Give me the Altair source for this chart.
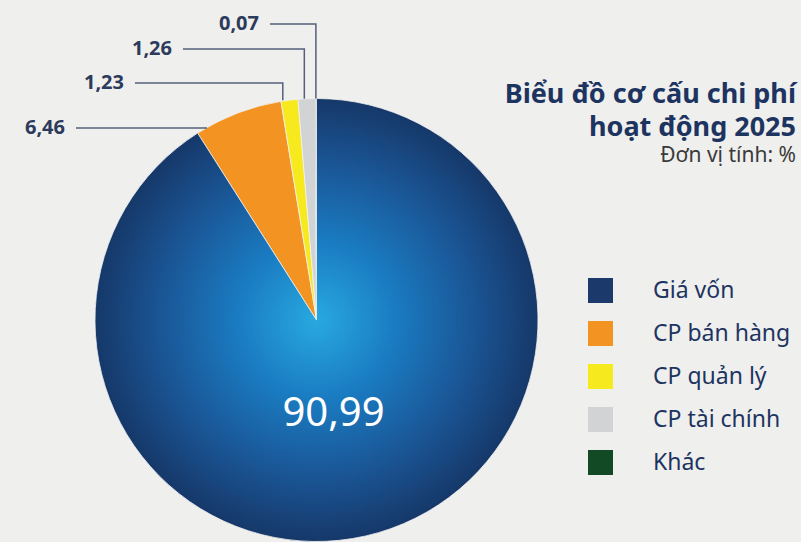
import altair as alt
import pandas as pd
import numpy as np

# ---------------- data ----------------
categories = ["Giá vốn", "CP bán hàng", "CP quản lý", "CP tài chính", "Khác"]
values = [90.99, 6.46, 1.23, 1.26, 0.07]
value_labels = ["90,99", "6,46", "1,23", "1,26", "0,07"]
legend_colors = ["#1b3a6b", "#f39322", "#f6ea1f", "#d1d3d4", "#114a24"]

title_lines = ["Biểu đồ cơ cấu chi phí", "hoạt động 2025"]
subtitle = "Đơn vị tính: %"

# ---------------- layout (not data) ----------------
W, H = 801, 542
CX, CY, R = 316.5, 320.0, 221.5
label_level = {"CP bán hàng": 128, "CP quản lý": 83, "CP tài chính": 49, "Khác": 24}
leader_end = {"CP bán hàng": 76, "CP quản lý": 135, "CP tài chính": 183, "Khác": 270}
leader_kind = {"CP bán hàng": "straight", "CP quản lý": "elbow", "CP tài chính": "elbow", "Khác": "elbow"}
FONT = "Noto Sans"
NAVY = "#1d3461"

# ---------------- derived tables ----------------
df = pd.DataFrame({"cat": categories, "value": values, "label": value_labels})
total = df["value"].sum()
df["t1"] = df["value"].cumsum() / total * 2 * np.pi
df["t0"] = df["t1"] - df["value"] / total * 2 * np.pi
df["tm"] = (df["t0"] + df["t1"]) / 2

paths = []
texts = []
for _, r in df.iterrows():
    c = r["cat"]
    if c not in label_level:
        continue
    lvl = label_level[c]
    xe = leader_end[c]
    if leader_kind[c] == "elbow":
        # leader drops onto the slice, slightly left of its middle
        xm = CX + R * np.sin(r["tm"] - 0.25 * (2 * np.pi - r["tm"]))
        ya = CY - R * np.cos(r["tm"])
        pts = [(xe, lvl), (xm, lvl), (xm, ya)]
    else:
        xa = CX - np.sqrt(R ** 2 - (CY - lvl) ** 2) + 1
        pts = [(xe, lvl), (xa, lvl)]
    for i, (px, py) in enumerate(pts):
        paths.append({"cat": c, "seq": i, "px": px, "py": py})
    texts.append({"cat": c, "label": r["label"], "px": xe - 11, "py": lvl})

paths = pd.DataFrame(paths)
texts = pd.DataFrame(texts)

main = df[df["cat"] == "Giá vốn"].copy()
main["px"] = CX + 17
main["py"] = CY + 94

xs = alt.Scale(domain=[0, W], range=[0, W])
ys = alt.Scale(domain=[0, H], range=[0, H])

# ---------------- marks ----------------
arcs = alt.Chart(df).mark_arc(radius=R, stroke="#f2f2f2", strokeWidth=0.8).encode(
    theta=alt.Theta("t0:Q", scale=None),
    theta2="t1:Q",
    x=alt.value(CX),
    y=alt.value(CY),
    color=alt.Color(
        "cat:N",
        scale=alt.Scale(domain=categories, range=legend_colors),
        sort=categories,
        legend=alt.Legend(
            title=None,
            orient="none",
            legendX=588,
            legendY=278,
            symbolType="square",
            symbolSize=625,
            symbolStrokeWidth=0,
            symbolOpacity=1,
            rowPadding=18,
            labelOffset=40,
            labelFont=FONT,
            labelFontSize=23,
            labelColor=NAVY,
            labelLimit=300,
        ),
    ),
    order=alt.Order("t0:Q"),
)

grad = alt.RadialGradient(
    gradient="radial",
    stops=[
        alt.GradientStop(color="#28a9e0", offset=0),
        alt.GradientStop(color="#1a7cc2", offset=0.35),
        alt.GradientStop(color="#1a5696", offset=0.7),
        alt.GradientStop(color="#163869", offset=1),
    ],
    x1=0.5, y1=0.5, r1=0, x2=0.5, y2=0.5, r2=0.5,
)

main_arc = alt.Chart(df).transform_filter(alt.datum.cat == "Giá vốn").mark_arc(
    radius=R, fill=grad, stroke="#f2f2f2", strokeWidth=0.8
).encode(
    theta=alt.Theta("t0:Q", scale=None),
    theta2="t1:Q",
    x=alt.value(CX),
    y=alt.value(CY),
)

leaders = alt.Chart(paths).mark_line(color="#56607a", strokeWidth=1.5, interpolate="linear").encode(
    x=alt.X("px:Q", scale=xs, axis=None),
    y=alt.Y("py:Q", scale=ys, axis=None),
    detail="cat:N",
    order="seq:Q",
)

num_labels = alt.Chart(texts).mark_text(
    font=FONT, fontSize=20, fontWeight="bold", color="#2c3a5c", align="right", baseline="middle"
).encode(
    x=alt.X("px:Q", scale=xs, axis=None),
    y=alt.Y("py:Q", scale=ys, axis=None),
    text="label:N",
)

main_label = alt.Chart(main).mark_text(
    font=FONT, fontSize=40, color="white", align="center", baseline="middle"
).encode(
    x=alt.X("px:Q", scale=xs, axis=None),
    y=alt.Y("py:Q", scale=ys, axis=None),
    text="label:N",
)

title_df = pd.DataFrame({"t": title_lines + [subtitle], "row": [0, 1, 2]})
title1 = alt.Chart(title_df).transform_filter(alt.datum.row == 0).mark_text(
    font=FONT, fontSize=27, fontWeight="bold", color=NAVY, align="right", baseline="alphabetic"
).encode(x=alt.value(796), y=alt.value(103), text="t:N")
title2 = alt.Chart(title_df).transform_filter(alt.datum.row == 1).mark_text(
    font=FONT, fontSize=27, fontWeight="bold", color=NAVY, align="right", baseline="alphabetic"
).encode(x=alt.value(796), y=alt.value(136), text="t:N")

sub = alt.Chart(title_df).transform_filter(alt.datum.row == 2).mark_text(
    font=FONT, fontSize=21, color="#3a3a3a", align="right", baseline="alphabetic"
).encode(x=alt.value(796), y=alt.value(162), text="t:N")

chart = alt.layer(arcs, main_arc, leaders, num_labels, main_label, title1, title2, sub).properties(
    width=W, height=H, background="#efefed", padding=0, autosize=alt.AutoSizeParams(type="none")
).configure_view(stroke=None)

chart.save("out.html", embed_options={"renderer": "svg", "actions": False})
